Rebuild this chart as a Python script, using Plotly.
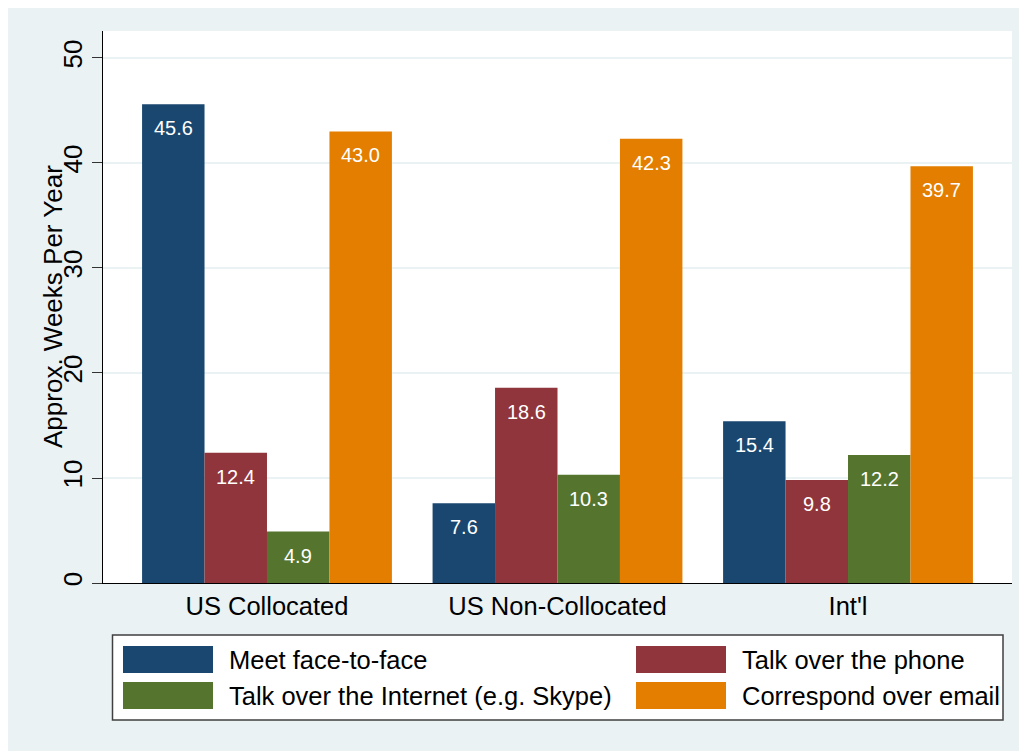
import plotly.graph_objects as go

categories = ["US Collocated", "US Non-Collocated", "Int'l"]
series_names = ["Meet face-to-face", "Talk over the phone",
                "Talk over the Internet (e.g. Skype)", "Correspond over email"]
face_to_face = [45.6, 7.6, 15.4]
phone = [12.4, 18.6, 9.8]
internet = [4.9, 10.3, 12.2]
email = [43.0, 42.3, 39.7]
series_values = [face_to_face, phone, internet, email]
colors = ["#1A476F", "#90353B", "#55752F", "#E37E00"]
y_ticks = [0, 10, 20, 30, 40, 50]

FONT = "Liberation Sans, Arial, Helvetica, sans-serif"
OFF = 8  # page body margin
W, H = 1027 - OFF, 751 - OFF
# plot area in screen pixels
SL, ST, SR, SB = 103, 31, 1012, 583
PL, PT, PR, PB = SL - OFF, ST - OFF, SR - OFF, SB - OFF
PW, PH = PR - PL, PB - PT

def fx(sx):
    return (sx - SL) / PW

def fy(sy):
    return (SB - sy) / PH

bar_w = 0.215
fig = go.Figure()
annotations = []
for j, (name, vals, col) in enumerate(zip(series_names, series_values, colors)):
    xs = [i + (j - 1.5) * bar_w for i in range(len(categories))]
    fig.add_trace(go.Bar(x=xs, y=vals, width=bar_w, name=name,
                         marker=dict(color=col, line=dict(width=0)),
                         showlegend=False, hoverinfo="skip"))
    for x, v in zip(xs, vals):
        annotations.append(dict(x=x, y=v, xref="x", yref="y", text=f"{v:.1f}",
                                showarrow=False, yanchor="middle", yshift=-24,
                                font=dict(family=FONT, size=20, color="white")))

# y-axis title
annotations.append(dict(xref="paper", yref="paper", x=fx(53), y=fy(307),
                        text="Approx. Weeks Per Year", textangle=-90, showarrow=False,
                        xanchor="center", yanchor="middle",
                        font=dict(family=FONT, size=26, color="black")))

shapes = []
# legend box
shapes.append(dict(type="rect", xref="paper", yref="paper", x0=fx(112.5), x1=fx(1003),
                   y0=fy(720), y1=fy(635), fillcolor="white",
                   line=dict(color="#404040", width=1.5), layer="above"))
col_x = [123, 636]
row_y = [659.5, 695.5]
order = [(0, 0), (1, 0), (0, 1), (1, 1)]  # (col,row) per series
for (c, r), name, col in zip(order, series_names, colors):
    shapes.append(dict(type="rect", xref="paper", yref="paper",
                       x0=fx(col_x[c]), x1=fx(col_x[c] + 90),
                       y0=fy(row_y[r] + 13.5), y1=fy(row_y[r] - 13.5),
                       fillcolor=col, line=dict(width=0), layer="above"))
    annotations.append(dict(xref="paper", yref="paper", x=fx(col_x[c] + 104), y=fy(row_y[r]),
                            text=name, showarrow=False, xanchor="left", yanchor="middle",
                            font=dict(family=FONT, size=25.5, color="black")))

fig.update_layout(
    width=W, height=H,
    margin=dict(l=PL, r=W - PR, t=PT, b=H - PB, pad=0),
    paper_bgcolor="#EAF2F3", plot_bgcolor="white",
    font=dict(family=FONT, color="black"),
    barmode="overlay",
    shapes=shapes, annotations=annotations,
    xaxis=dict(range=[-0.5645, 2.5645], tickvals=list(range(len(categories))),
               ticktext=categories, showline=True, linecolor="black", linewidth=1,
               ticks="", showgrid=False, zeroline=False,
               tickfont=dict(family=FONT, size=25.5, color="black")),
    yaxis=dict(range=[0, 52.57], tickvals=y_ticks, showline=True, linecolor="black",
               linewidth=1, ticks="outside", ticklen=10, tickcolor="#333", tickwidth=1,
               tickangle=-90, showgrid=True, gridcolor="#EAF2F3", gridwidth=1.5,
               zeroline=False, tickfont=dict(family=FONT, size=26, color="black")),
)

fig.write_html("out.html")
